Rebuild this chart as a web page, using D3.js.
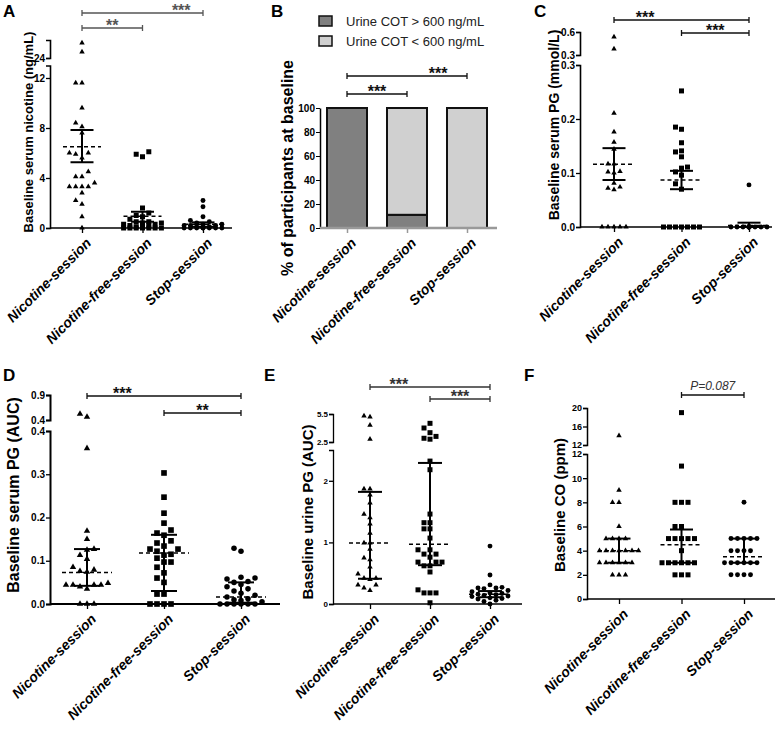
<!DOCTYPE html>
<html>
<head>
<meta charset="utf-8">
<script src="https://cdn.jsdelivr.net/npm/d3@7"></script>
<style>
  body { margin: 0; background: #fff; }
</style>
</head>
<body>
<svg id="fig" width="781" height="733"></svg>
<script>
const FONT = '"Liberation Sans", Arial, Helvetica, sans-serif';
const groups = ['Nicotine-session', 'Nicotine-free-session', 'Stop-session'];

// A - baseline serum nicotine (ng/mL)
const nicSessionA = [29, 26, 11.6, 11.6, 9.6, 8.4, 8.1, 7.6, 6.0, 5.9, 6.0, 5.6, 4.5, 4.1, 4.1, 3.6, 3.3, 3.3, 3.3, 3.3, 2.8, 2.2, 1.9, 0.9, 0];
const nicFreeA = [6.1, 5.9, 5.7, 1.6, 1.2, 1.0, 0.9, 0.7, 0.5, 0.5, 0.4, 0.4, 0.3, 0.3, 0.2, 0.2, 0.1, 0.1, 0, 0, 0, 0, 0, 0, 0];
const stopA = [2.2, 1.7, 0.9, 0.6, 0.5, 0.4, 0.3, 0.3, 0.2, 0.2, 0.2, 0.1, 0.1, 0.1, 0, 0, 0, 0, 0, 0, 0, 0];
const medianA = [6.5, 0.95, 0.3];
const lowA = [5.26, 0.5, 0.1];
const highA = [7.84, 1.3, 0.45];

// B - urine cotinine (% of participants)
const cotAbove = [100, 11, 0];
const cotBelow = [0, 89, 100];
const legendB = ['Urine COT > 600 ng/mL', 'Urine COT < 600 ng/mL'];

// C - baseline serum PG (mmol/L)
const nicSessionC = [0.535, 0.378, 0.211, 0.176, 0.157, 0.144, 0.117, 0.117, 0.103, 0.100, 0.102, 0.081, 0.074, 0.072, 0.069, 0, 0, 0, 0, 0];
const nicFreeC = [0.252, 0.185, 0.181, 0.156, 0.141, 0.139, 0.130, 0.111, 0.109, 0.102, 0.096, 0.080, 0.070, 0, 0, 0, 0, 0, 0, 0];
const stopC = [0.078, 0, 0, 0, 0, 0, 0, 0, 0, 0, 0, 0, 0, 0, 0, 0, 0, 0];
const medianC = [0.116, 0.087, 0.003];
const lowC = [0.087, 0.070, 0];
const highC = [0.146, 0.104, 0.008];

// D - baseline serum PG (AUC)
const nicSessionD = [0.52, 0.46, 0.36, 0.169, 0.150, 0.127, 0.125, 0.113, 0.104, 0.085, 0.079, 0.076, 0.074, 0.048, 0.044, 0.044, 0.044, 0.044, 0.040, 0.035, 0, 0, 0];
const nicFreeD = [0.303, 0.247, 0.210, 0.187, 0.171, 0.164, 0.159, 0.146, 0.141, 0.134, 0.127, 0.127, 0.122, 0.115, 0.113, 0.106, 0.097, 0.097, 0.085, 0.072, 0.060, 0.050, 0.023, 0.023, 0, 0, 0, 0];
const stopD = [0.129, 0.122, 0.062, 0.060, 0.058, 0.052, 0.050, 0.045, 0.040, 0.035, 0.030, 0.025, 0.020, 0.016, 0.012, 0.010, 0.008, 0.005, 0, 0, 0, 0, 0, 0];
const medianD = [0.073, 0.118, 0.016];
const lowD = [0.042, 0.03, 0.003];
const highD = [0.127, 0.16, 0.05];

// E - baseline urine PG (AUC)
const nicSessionE = [5.3, 5.2, 4.3, 2.8, 1.87, 1.87, 1.77, 1.64, 1.46, 1.40, 1.30, 1.15, 0.99, 0.99, 0.89, 0.75, 0.72, 0.60, 0.49, 0.42, 0.42, 0.40, 0.31, 0.31, 0.26, 0.22];
const nicFreeE = [4.5, 4.0, 3.5, 3.1, 2.9, 2.8, 2.32, 2.18, 1.46, 1.32, 1.32, 1.22, 1.22, 1.07, 0.88, 0.88, 0.81, 0.76, 0.81, 0.68, 0.68, 0.68, 0.62, 0.62, 0.52, 0.23, 0.18, 0.18, 0.18, 0.02];
const stopE = [0.94, 0.47, 0.31, 0.27, 0.26, 0.26, 0.25, 0.22, 0.20, 0.18, 0.17, 0.16, 0.15, 0.14, 0.13, 0.12, 0.10, 0.09, 0.08, 0.06, 0.04, 0.0];
const medianE = [0.99, 0.97, 0.16];
const lowE = [0.41, 0.63, 0.11];
const highE = [1.82, 2.29, 0.21];

// F - baseline CO (ppm)
const nicSessionF = [14, 9, 8, 8, 6, 5, 5, 5, 5, 4, 4, 4, 4, 4, 4, 4, 3, 3, 3, 3, 3, 3, 2, 2, 2];
const nicFreeF = [19, 11, 8, 8, 8, 6, 6, 5, 5, 5, 5, 5, 4, 3, 3, 3, 3, 3, 3, 2, 2, 2];
const stopF = [8, 5, 5, 5, 5, 5, 4, 4, 4, 4, 3, 3, 3, 3, 3, 3, 2, 2, 2, 2];
const medianF = [4, 4.5, 3.5];
const lowF = [3, 3, 3];
const highF = [5, 5.75, 5];

const svg = d3.select('#fig');
const symbols = [d3.symbolTriangle, d3.symbolSquare, d3.symbolCircle];

// simple beeswarm: spread points sideways when they overlap
function swarm(vals, yOf, cx, step, maxK) {
  const pts = vals.map(v => ({ v, y: yOf(v) })).sort((a, b) => a.v - b.v);
  const placed = [];
  pts.forEach(p => {
    let best = null, bestD = -1;
    for (let k = 0; k <= maxK * 2; k++) {
      const off = k === 0 ? 0 : (k % 2 ? -1 : 1) * Math.ceil(k / 2);
      const x = cx + off * step;
      const d = placed.length ? d3.min(placed, q => (q.x - x) ** 2 + (q.y - p.y) ** 2) : Infinity;
      if (d >= step * step * 0.9) { best = x; break; }
      if (d > bestD) { bestD = d; best = x; }
    }
    p.x = best;
    placed.push(p);
  });
  return placed;
}

function panelLetter(t, x, y) {
  svg.append('text').attr('x', x).attr('y', y)
    .style('font', `bold 17px ${FONT}`).text(t);
}

function yTitle(t, x, y, size) {
  svg.append('text')
    .attr('transform', `translate(${x},${y}) rotate(-90)`)
    .attr('text-anchor', 'middle').attr('dy', '0.35em')
    .style('font', `bold ${size}px ${FONT}`).text(t);
}

function xLabels(g, x, y0) {
  g.selectAll('text.xl').data(groups).join('text')
    .attr('class', 'xl')
    .attr('transform', d => `translate(${x(d) + 10},${y0 + 16}) rotate(-45)`)
    .attr('text-anchor', 'end')
    .style('font', `italic bold 14px ${FONT}`)
    .text(d => d);
}

function brackets(g, x, list, color) {
  list.forEach(b => {
    const xa = x(groups[b.a]), xb = x(groups[b.b]);
    g.append('path')
      .attr('d', `M${xa},${b.y - 3}V${b.y + 3}M${xa},${b.y}H${xb}M${xb},${b.y - 3}V${b.y + 3}`)
      .attr('fill', 'none').attr('stroke', color).attr('stroke-width', 1.3);
    g.append('text')
      .attr('x', xa + (xb - xa) * b.pos)
      .attr('y', b.italic ? b.y - 5 : b.y + 3)
      .attr('text-anchor', 'middle')
      .attr('fill', b.italic ? '#333' : color)
      .style('font', b.italic ? `italic 12px ${FONT}` : `bold 16px ${FONT}`)
      .text(b.label);
  });
}

function scatterPanel(p) {
  const g = svg.append('g');
  const x = d3.scalePoint().domain(groups).range(p.cats);
  const scales = p.segs.map(s => d3.scaleLinear().domain(s.domain).range(s.range));
  const yOf = v => (scales.length > 1 && v > p.segs[0].domain[1]) ? scales[1](v) : scales[0](v);
  const y0 = scales[0](0);

  // y axis, one piece per segment of the broken axis
  scales.forEach((sc, i) => {
    const ax = g.append('g').attr('transform', `translate(${p.axisX},0)`)
      .call(d3.axisLeft(sc).tickValues(p.segs[i].ticks).tickFormat(p.fmt).tickSize(4).tickSizeOuter(4));
    ax.select('.domain').attr('stroke-width', p.axisW);
    ax.selectAll('.tick line').attr('stroke-width', 1.3);
    ax.selectAll('.tick text').attr('x', -5).style('font', `bold ${p.tickFont}px ${FONT}`);
  });

  // x axis
  g.append('line').attr('x1', p.axisX).attr('x2', p.xEnd).attr('y1', y0).attr('y2', y0)
    .attr('stroke', '#000').attr('stroke-width', p.axisW);
  const xa = g.append('g').attr('transform', `translate(0,${y0})`)
    .call(d3.axisBottom(x).tickSize(5).tickSizeOuter(0).tickFormat(''));
  xa.select('.domain').remove();
  xa.selectAll('.tick line').attr('stroke-width', 1.3);
  xLabels(g, x, y0);

  // points
  p.data.forEach((vals, i) => {
    const pts = swarm(vals, yOf, x(groups[i]), p.step, p.maxK);
    g.append('g').selectAll('path').data(pts).join('path')
      .attr('transform', d => `translate(${d.x},${d.y})`)
      .attr('d', d3.symbol(symbols[i], p.sizes[i]))
      .attr('fill', '#000');
  });

  // median (dashed) and interval bars
  groups.forEach((name, i) => {
    const cx = x(name);
    g.append('line')
      .attr('x1', cx - p.medHalf).attr('x2', cx + p.medHalf)
      .attr('y1', yOf(p.median[i])).attr('y2', yOf(p.median[i]))
      .attr('stroke', '#000').attr('stroke-width', 1.5).attr('stroke-dasharray', '4,3');
    [p.low[i], p.high[i]].forEach(v => {
      g.append('line')
        .attr('x1', cx - p.capHalf).attr('x2', cx + p.capHalf)
        .attr('y1', yOf(v)).attr('y2', yOf(v))
        .attr('stroke', '#000').attr('stroke-width', 2);
    });
    g.append('line')
      .attr('x1', cx).attr('x2', cx)
      .attr('y1', yOf(p.low[i])).attr('y2', yOf(p.high[i]))
      .attr('stroke', '#000').attr('stroke-width', 2);
  });

  brackets(g, x, p.brackets, p.bracketColor);
  yTitle(p.title, p.titleX, p.titleY, p.titleSize);
  panelLetter(p.letter, p.letterX, p.letterY);
}

const smallMarks = [13, 25, 19];
const bigMarks = [18, 32, 24];

scatterPanel({
  letter: 'A', letterX: 3, letterY: 17,
  data: [nicSessionA, nicFreeA, stopA], median: medianA, low: lowA, high: highA,
  axisX: 50, xEnd: 232, cats: [82, 203], axisW: 1.6,
  segs: [
    { domain: [0, 13], range: [228, 65.5], ticks: [0, 4, 8, 12] },
    { domain: [24, 30], range: [58, 40], ticks: [24] }
  ],
  fmt: d3.format('d'), tickFont: 10,
  title: 'Baseline serum nicotine (ng/mL)', titleX: 28, titleY: 132, titleSize: 13,
  medHalf: 19, capHalf: 11.5, step: 6.3, maxK: 3, sizes: smallMarks,
  brackets: [
    { a: 0, b: 2, y: 13, label: '***', pos: 0.82 },
    { a: 0, b: 1, y: 28, label: '**', pos: 0.5 }
  ],
  bracketColor: '#555'
});

scatterPanel({
  letter: 'C', letterX: 534, letterY: 17,
  data: [nicSessionC, nicFreeC, stopC], median: medianC, low: lowC, high: highC,
  axisX: 580, xEnd: 772, cats: [614, 749], axisW: 1.6,
  segs: [
    { domain: [0, 0.3], range: [227, 65], ticks: [0, 0.1, 0.2, 0.3] },
    { domain: [0.3, 0.6], range: [55, 32], ticks: [0.3, 0.6] }
  ],
  fmt: d3.format('.1f'), tickFont: 10,
  title: 'Baseline serum PG (mmol/L)', titleX: 554, titleY: 125, titleSize: 14,
  medHalf: 21, capHalf: 11.5, step: 6, maxK: 3, sizes: smallMarks,
  brackets: [
    { a: 0, b: 2, y: 20, label: '***', pos: 0.23 },
    { a: 1, b: 2, y: 33, label: '***', pos: 0.5 }
  ],
  bracketColor: '#111'
});

scatterPanel({
  letter: 'D', letterX: 3, letterY: 381,
  data: [nicSessionD, nicFreeD, stopD], median: medianD, low: lowD, high: highD,
  axisX: 50, xEnd: 280, cats: [87, 241], axisW: 2,
  segs: [
    { domain: [0, 0.4], range: [604, 431], ticks: [0, 0.1, 0.2, 0.3, 0.4] },
    { domain: [0.4, 0.9], range: [420, 395], ticks: [0.4, 0.9] }
  ],
  fmt: d3.format('.1f'), tickFont: 10,
  title: 'Baseline serum PG (AUC)', titleX: 13, titleY: 495, titleSize: 16,
  medHalf: 25, capHalf: 13, step: 7, maxK: 3, sizes: bigMarks,
  brackets: [
    { a: 0, b: 2, y: 396, label: '***', pos: 0.23 },
    { a: 1, b: 2, y: 413, label: '**', pos: 0.5 }
  ],
  bracketColor: '#111'
});

scatterPanel({
  letter: 'E', letterX: 264, letterY: 381,
  data: [nicSessionE, nicFreeE, stopE], median: medianE, low: lowE, high: highE,
  axisX: 333, xEnd: 522, cats: [370, 490], axisW: 1.3,
  segs: [
    { domain: [0, 2.5], range: [604, 450], ticks: [0, 1, 2] },
    { domain: [2.5, 5.5], range: [442, 414], ticks: [2.5, 5.5] }
  ],
  fmt: d => String(d), tickFont: 8,
  title: 'Baseline urine PG (AUC)', titleX: 308, titleY: 512, titleSize: 15,
  medHalf: 21, capHalf: 12, step: 6, maxK: 3, sizes: smallMarks,
  brackets: [
    { a: 0, b: 2, y: 387, label: '***', pos: 0.24 },
    { a: 1, b: 2, y: 399, label: '***', pos: 0.5 }
  ],
  bracketColor: '#333'
});

scatterPanel({
  letter: 'F', letterX: 524, letterY: 381,
  data: [nicSessionF, nicFreeF, stopF], median: medianF, low: lowF, high: highF,
  axisX: 587, xEnd: 775, cats: [619, 744], axisW: 1.5,
  segs: [
    { domain: [0, 12], range: [599, 454], ticks: [0, 2, 4, 6, 8, 10, 12] },
    { domain: [12, 20], range: [445, 408], ticks: [12, 16, 20] }
  ],
  fmt: d3.format('d'), tickFont: 9,
  title: 'Baseline CO (ppm)', titleX: 560, titleY: 505, titleSize: 15,
  medHalf: 21, capHalf: 11.5, step: 6.5, maxK: 3, sizes: smallMarks,
  brackets: [
    { a: 1, b: 2, y: 395, label: 'P=0.087', pos: 0.5, italic: true }
  ],
  bracketColor: '#111'
});

// B - stacked bars
(function () {
  const g = svg.append('g');
  const x = d3.scaleBand().domain(groups).range([317, 497]).paddingInner(1 / 3).paddingOuter(1 / 6);
  const y = d3.scaleLinear().domain([0, 100]).range([228, 108]);
  const rows = groups.map((name, i) => ({ name, above: cotAbove[i], below: cotBelow[i] }));
  const stack = d3.stack().keys(['above', 'below'])(rows);
  const fills = { above: '#808080', below: '#d0d0d0' };

  g.selectAll('g.layer').data(stack).join('g')
    .attr('class', 'layer')
    .attr('fill', d => fills[d.key])
    .selectAll('rect').data(d => d.filter(s => s[1] > s[0])).join('rect')
    .attr('x', d => x(d.data.name))
    .attr('width', x.bandwidth())
    .attr('y', d => y(d[1]))
    .attr('height', d => y(d[0]) - y(d[1]))
    .attr('stroke', '#111').attr('stroke-width', 2);

  const ax = g.append('g').attr('transform', 'translate(320,0)')
    .call(d3.axisLeft(y).tickValues(d3.range(0, 101, 20)).tickSize(4).tickSizeOuter(0));
  ax.select('.domain').attr('stroke-width', 1.5);
  ax.selectAll('.tick text').attr('x', -5).style('font', `bold 10px ${FONT}`);

  g.append('line').attr('x1', 320).attr('x2', 497).attr('y1', y(0)).attr('y2', y(0))
    .attr('stroke', '#999').attr('stroke-width', 2.5);
  const xp = d3.scalePoint().domain(groups).range([347, 467]);
  const xa = g.append('g').attr('transform', `translate(0,${y(0)})`)
    .call(d3.axisBottom(xp).tickSize(5).tickSizeOuter(0).tickFormat(''));
  xa.select('.domain').remove();
  xa.selectAll('.tick line').attr('stroke', '#999').attr('stroke-width', 1.5);
  xLabels(g, xp, y(0));

  brackets(g, xp, [
    { a: 0, b: 2, y: 76, label: '***', pos: 0.76 },
    { a: 0, b: 1, y: 94, label: '***', pos: 0.5 }
  ], '#111');

  const lg = g.append('g').selectAll('g').data(legendB).join('g')
    .attr('transform', (d, i) => `translate(319,${16 + i * 20})`);
  lg.append('rect').attr('width', 13).attr('height', 10)
    .attr('fill', (d, i) => i === 0 ? fills.above : fills.below)
    .attr('stroke', '#111').attr('stroke-width', 1.5);
  lg.append('text').attr('x', 27).attr('y', 10)
    .style('font', `13px ${FONT}`).attr('fill', '#222').text(d => d);

  yTitle('% of participants at baseline', 287, 168, 16);
  panelLetter('B', 271, 17);
})();
</script>
</body>
</html>
